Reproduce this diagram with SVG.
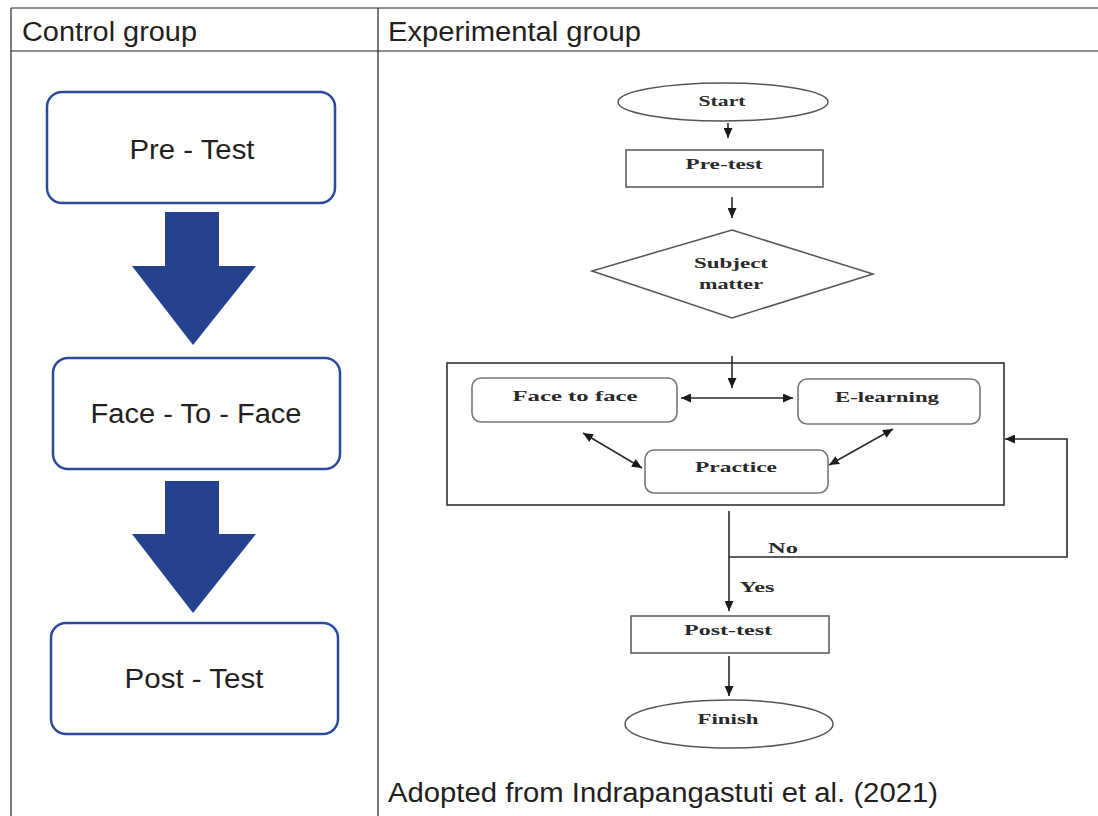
<svg xmlns="http://www.w3.org/2000/svg" width="1098" height="816" viewBox="0 0 1098 816">
<style>
.hdr{font-family:"Liberation Sans",Arial,sans-serif;font-size:27px;fill:#231f20}
.box{fill:#fff;stroke:#2b4a9b;stroke-width:2.5}
.big{fill:#26418e}
.lbl{font-family:"Liberation Sans",Arial,sans-serif;font-size:27px;fill:#231f20;text-anchor:middle}
.fc{font-family:"Liberation Serif","Times New Roman",serif;font-size:15px;font-weight:bold;fill:#2a2a2a;text-anchor:middle}
.shape{fill:#fff;stroke:#555;stroke-width:1.5}
.rbox{fill:#fff;stroke:#777;stroke-width:1.6}
.ln{fill:none;stroke:#2a2a2a;stroke-width:1.6}
.tbl{stroke:#222;stroke-width:1.2;fill:none}
</style>
<defs>
<marker id="ah" markerUnits="userSpaceOnUse" markerWidth="10" markerHeight="9" refX="10" refY="4.5" orient="auto-start-reverse" viewBox="0 0 10 9">
<path d="M0,0 L10,4.5 L0,9 z" fill="#1a1a1a"/>
</marker>
</defs>
<rect width="1098" height="816" fill="#fff"/>
<g id="table">
<line class="tbl" x1="11" y1="8" x2="1098" y2="8"/>
<line class="tbl" x1="11" y1="51" x2="1098" y2="51"/>
<line class="tbl" x1="11" y1="8" x2="11" y2="816"/>
<line class="tbl" x1="378" y1="8" x2="378" y2="816"/>
<text class="hdr" x="22" y="41" textLength="175" lengthAdjust="spacingAndGlyphs">Control group</text>
<text class="hdr" x="388" y="41" textLength="253" lengthAdjust="spacingAndGlyphs">Experimental group</text>
</g>
<g id="control-pretest">
<rect class="box" x="47" y="92" width="288" height="111" rx="15"/>
<text class="lbl" x="192" y="159" textLength="125" lengthAdjust="spacingAndGlyphs">Pre - Test</text>
</g>
<g id="control-arrow1">
<polygon class="big" points="165,212 219,212 219,266 256,266 193,345 132,266 165,266"/>
</g>
<g id="control-f2f">
<rect class="box" x="53" y="358" width="287" height="111" rx="15"/>
<text class="lbl" x="196" y="423" textLength="211" lengthAdjust="spacingAndGlyphs">Face - To - Face</text>
</g>
<g id="control-arrow2">
<polygon class="big" points="165,481 219,481 219,534 256,534 193,613 132,534 165,534"/>
</g>
<g id="control-posttest">
<rect class="box" x="51" y="623" width="287" height="111" rx="15"/>
<text class="lbl" x="194" y="688" textLength="139" lengthAdjust="spacingAndGlyphs">Post - Test</text>
</g>
<g id="start">
<ellipse class="shape" cx="723" cy="102" rx="105" ry="19"/>
<text class="fc" x="722" y="106" textLength="47" lengthAdjust="spacingAndGlyphs">Start</text>
</g>
<g id="pretest">
<rect class="shape" x="626" y="150" width="197" height="37"/>
<text class="fc" x="724" y="169" textLength="77" lengthAdjust="spacingAndGlyphs">Pre-test</text>
</g>
<g id="subject">
<polygon class="shape" points="732,230 873,274 732,318 592,271"/>
<text class="fc" x="731" y="268" textLength="74" lengthAdjust="spacingAndGlyphs">Subject</text>
<text class="fc" x="731" y="289" textLength="64" lengthAdjust="spacingAndGlyphs">matter</text>
</g>
<g id="container">
<rect x="447" y="363" width="557" height="142" fill="none" stroke="#333" stroke-width="1.6"/>
</g>
<g id="face">
<rect class="rbox" x="472" y="378" width="205" height="44" rx="9"/>
<text class="fc" x="575" y="401" textLength="125" lengthAdjust="spacingAndGlyphs">Face to face</text>
</g>
<g id="elearning">
<rect class="rbox" x="798" y="379" width="182" height="45" rx="9"/>
<text class="fc" x="887" y="402" textLength="104" lengthAdjust="spacingAndGlyphs">E-learning</text>
</g>
<g id="practice">
<rect class="rbox" x="645" y="450" width="183" height="43" rx="9"/>
<text class="fc" x="736" y="472" textLength="82" lengthAdjust="spacingAndGlyphs">Practice</text>
</g>
<g id="posttest">
<rect class="shape" x="631" y="616" width="198" height="37"/>
<text class="fc" x="728" y="635" textLength="88" lengthAdjust="spacingAndGlyphs">Post-test</text>
</g>
<g id="finish">
<ellipse class="shape" cx="729" cy="724" rx="104" ry="24"/>
<text class="fc" x="728" y="724" textLength="61" lengthAdjust="spacingAndGlyphs">Finish</text>
</g>
<g id="connectors">
<line class="ln" x1="728" y1="123" x2="728" y2="138" marker-end="url(#ah)"/>
<line class="ln" x1="732" y1="197" x2="732" y2="218" marker-end="url(#ah)"/>
<line class="ln" x1="732" y1="356" x2="732" y2="388" marker-end="url(#ah)"/>
<line class="ln" x1="681" y1="398" x2="793" y2="398" marker-start="url(#ah)" marker-end="url(#ah)"/>
<line class="ln" x1="583" y1="433" x2="642" y2="468" marker-start="url(#ah)" marker-end="url(#ah)"/>
<line class="ln" x1="893" y1="429" x2="829" y2="465" marker-start="url(#ah)" marker-end="url(#ah)"/>
<line class="ln" x1="729" y1="511" x2="729" y2="611" marker-end="url(#ah)"/>
<polyline class="ln" points="729,557 1067,557 1067,439 1005,439" marker-end="url(#ah)"/>
<line class="ln" x1="729" y1="656" x2="729" y2="696" marker-end="url(#ah)"/>
<text class="fc" x="783" y="553" textLength="30" lengthAdjust="spacingAndGlyphs">No</text>
<text class="fc" x="757" y="592" textLength="35" lengthAdjust="spacingAndGlyphs">Yes</text>
</g>
<g id="caption">
<text class="hdr" x="388" y="802" textLength="550" lengthAdjust="spacingAndGlyphs">Adopted from Indrapangastuti et al. (2021)</text>
</g>
</svg>
